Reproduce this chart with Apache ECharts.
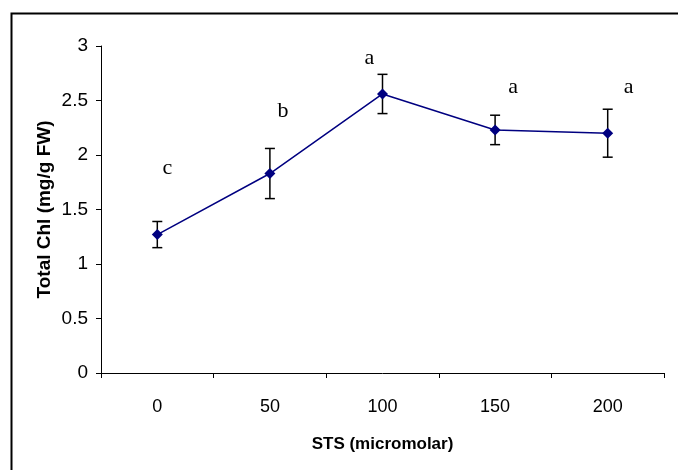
<!DOCTYPE html>
<html>
<head>
<meta charset="utf-8">
<script src="https://cdn.jsdelivr.net/npm/echarts@6/dist/echarts.min.js"></script>
<style>
  html, body { margin: 0; padding: 0; background: #fff; }
  #main { width: 678px; height: 470px; }
</style>
</head>
<body>
<div id="main"></div>
<script>
// data
const doses = ['0', '50', '100', '150', '200']
const chl = [1.27, 1.83, 2.56, 2.23, 2.20]
const chlErr = [0.12, 0.23, 0.18, 0.135, 0.22]
const letters = ['c', 'b', 'a', 'a', 'a']
const letterY = [1.88, 2.40, 2.89, 2.62, 2.62]
const yTicks = [0, 0.5, 1, 1.5, 2, 2.5, 3]

// pixel nudges for the letters (horizontal only)
const letterDx = [10, 13, -13, 18, 21]

var chartDom = document.getElementById('main')
var myChart = echarts.init(chartDom)
var option

const errData = doses.map((d, i) => [i, chl[i] - chlErr[i], chl[i] + chlErr[i]])
const letterData = doses.map((d, i) => [i, letterY[i], letters[i]])

option = {
  animation: false,
  backgroundColor: '#fff',
  graphic: [
    {
      type: 'rect',
      left: 9,
      top: 11,
      shape: { width: 720, height: 520 },
      style: { fill: 'none', stroke: '#000', lineWidth: 2 },
      silent: true
    }
  ],
  grid: {
    left: 101,
    right: 14,
    top: 46,
    bottom: 97
  },
  xAxis: {
    type: 'category',
    data: doses,
    boundaryGap: true,
    name: 'STS (micromolar)',
    nameLocation: 'middle',
    nameGap: 63,
    nameMoveOverlap: false,
    nameTextStyle: {
      fontFamily: 'Liberation Sans',
      fontWeight: 'bold',
      fontSize: 17,
      color: '#000',
      verticalAlign: 'top'
    },
    axisLine: { lineStyle: { color: '#000', width: 1 } },
    axisTick: { show: true, inside: false, length: 5, lineStyle: { color: '#000' } },
    axisLabel: {
      margin: 25,
      fontFamily: 'Liberation Sans',
      fontSize: 18,
      color: '#000'
    },
    splitLine: { show: false }
  },
  yAxis: {
    type: 'value',
    min: 0,
    max: yTicks[yTicks.length - 1],
    interval: 0.5,
    name: 'Total Chl (mg/g FW)',
    nameLocation: 'middle',
    nameGap: 47,
    nameMoveOverlap: false,
    nameTextStyle: {
      fontFamily: 'Liberation Sans',
      fontWeight: 'bold',
      fontSize: 19,
      color: '#000'
    },
    axisLine: { show: true, lineStyle: { color: '#000', width: 1 } },
    axisTick: { show: true, inside: false, length: 5, lineStyle: { color: '#000' } },
    axisLabel: {
      margin: 13,
      fontFamily: 'Liberation Sans',
      fontSize: 19,
      color: '#000'
    },
    splitLine: { show: false }
  },
  series: [
    {
      name: 'Total Chl',
      type: 'line',
      data: chl,
      symbol: 'diamond',
      symbolSize: 11,
      lineStyle: { color: '#000080', width: 1.5 },
      itemStyle: { color: '#000080' },
      z: 3
    },
    {
      name: 'SE',
      type: 'custom',
      data: errData,
      z: 2,
      renderItem: function (params, api) {
        const x = api.value(0)
        const lo = api.coord([x, api.value(1)])
        const hi = api.coord([x, api.value(2)])
        const w = 5
        const st = { stroke: '#000', lineWidth: 1.5 }
        return {
          type: 'group',
          children: [
            { type: 'line', shape: { x1: hi[0], y1: hi[1], x2: lo[0], y2: lo[1] }, style: st },
            { type: 'line', shape: { x1: hi[0] - w, y1: hi[1], x2: hi[0] + w, y2: hi[1] }, style: st },
            { type: 'line', shape: { x1: lo[0] - w, y1: lo[1], x2: lo[0] + w, y2: lo[1] }, style: st }
          ]
        }
      }
    },
    {
      name: 'letters',
      type: 'custom',
      data: letterData,
      z: 4,
      renderItem: function (params, api) {
        const p = api.coord([api.value(0), api.value(1)])
        return {
          type: 'text',
          x: p[0] + letterDx[params.dataIndex],
          y: p[1],
          style: {
            text: letters[params.dataIndex],
            fontFamily: 'Liberation Serif',
            fontSize: 22,
            fill: '#000',
            align: 'center',
            verticalAlign: 'middle'
          }
        }
      }
    }
  ]
}

option && myChart.setOption(option)
</script>
</body>
</html>
